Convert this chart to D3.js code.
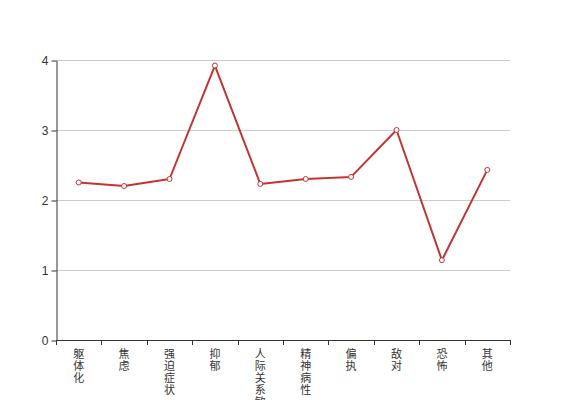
<!DOCTYPE html>
<html><head><meta charset="utf-8">
<script src="https://cdn.jsdelivr.net/npm/d3@7"></script>
<style>body{margin:0;background:#fff;} svg{display:block;}</style>
</head><body>
<svg id="c" width="567" height="400"></svg>
<script>
const categories = ["躯体化","焦虑","强迫症状","抑郁","人际关系敏感","精神病性","偏执","敌对","恐怖","其他"];
const values = [2.25, 2.2, 2.3, 3.92, 2.23, 2.3, 2.33, 3.0, 1.14, 2.43];
const yTicks = [0,1,2,3,4];

(function(){
const svg = d3.select("#c");
const mLeft = 56, mRight = 510, mTop = 60, mBottom = 340;
const x = d3.scaleBand().domain(categories).range([mLeft, mRight]);
const y = d3.scaleLinear().domain([0,4]).range([mBottom, mTop]);
const cjk = "'Noto Sans CJK SC', sans-serif";
const lat = "'Liberation Sans', Arial, sans-serif";

// grid
svg.append("g").selectAll("line").data(yTicks.filter(d=>d>0)).join("line")
  .attr("x1", mLeft).attr("x2", mRight)
  .attr("y1", d=>y(d)+0.5).attr("y2", d=>y(d)+0.5)
  .attr("stroke", "#ccc").attr("stroke-width", 1);

// y axis
const ya = svg.append("g").attr("transform", `translate(${mLeft+0.5},0.5)`)
  .call(d3.axisLeft(y).tickValues(yTicks).tickSize(5).tickSizeOuter(0).tickFormat(d3.format("d")));
ya.select(".domain").attr("stroke", "#333");
ya.selectAll(".tick line").attr("stroke", "#333");
ya.selectAll(".tick text").attr("fill", "#333").style("font-family", lat).style("font-size", "12px").attr("x", -8);

// x axis
const xa = svg.append("g");
xa.append("line").attr("x1", mLeft).attr("x2", mRight+0.5)
  .attr("y1", mBottom+0.5).attr("y2", mBottom+0.5).attr("stroke", "#333");
const tickPos = categories.map(c=>x(c)).concat([x.range()[1]]);
xa.selectAll("line.t").data(tickPos).join("line").attr("class","t")
  .attr("x1", d=>Math.round(d)+0.5).attr("x2", d=>Math.round(d)+0.5)
  .attr("y1", mBottom).attr("y2", mBottom+5).attr("stroke", "#333");
const lbl = xa.selectAll("text").data(categories).join("text")
  .attr("fill", "#333").style("font-family", cjk).style("font-size", "11px")
  .attr("text-anchor", "middle");
lbl.each(function(c){
  const t = d3.select(this);
  const cx = x(c) + x.bandwidth()/2;
  Array.from(c).forEach((ch,i)=>{
    t.append("tspan").attr("x", cx).attr("y", 358 + i*12).text(ch);
  });
});

// line
const pts = categories.map((c,i)=>[x(c)+x.bandwidth()/2, y(values[i])]);
svg.append("path").attr("d", d3.line()(pts))
  .attr("fill", "none").attr("stroke", "#c23531").attr("stroke-width", 2)
  .attr("stroke-linejoin", "round");
svg.append("g").selectAll("circle").data(pts).join("circle")
  .attr("cx", d=>d[0]).attr("cy", d=>d[1]).attr("r", 2.5)
  .attr("fill", "#fff").attr("stroke", "#c23531").attr("stroke-width", 1);
})();
</script>
</body></html>
